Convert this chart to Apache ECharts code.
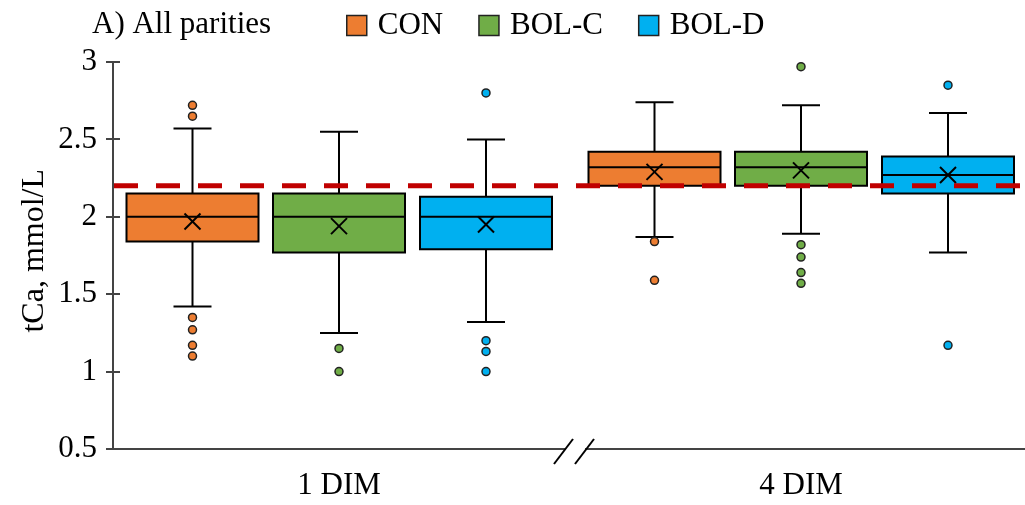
<!DOCTYPE html>
<html>
<head>
<meta charset="utf-8">
<script src="https://cdn.jsdelivr.net/npm/echarts@6/dist/echarts.min.js"></script>
<style>
  html, body { margin: 0; padding: 0; background: #fff; }
  #chart { width: 1025px; height: 505px; }
</style>
</head>
<body>
<div id="chart"></div>
<script>
// ---- data ----
const CATEGORIES = ['1 DIM', '4 DIM'];
const TREATMENTS = ['CON', 'BOL-C', 'BOL-D'];
const COLORS = ['#ED7D31', '#70AD47', '#00B0F0'];

// one row per DIM: [lower whisker, Q1, median, Q3, upper whisker, mean]
const CON_BOX  = [[1.42, 1.84, 2.00, 2.15, 2.57, 1.97], [1.87, 2.20, 2.32, 2.42, 2.74, 2.29]];
const BOLC_BOX = [[1.25, 1.77, 2.00, 2.15, 2.55, 1.94], [1.89, 2.20, 2.32, 2.42, 2.72, 2.30]];
const BOLD_BOX = [[1.32, 1.79, 2.00, 2.13, 2.50, 1.95], [1.77, 2.15, 2.27, 2.39, 2.67, 2.27]];

// outliers, one list per DIM
const CON_OUTLIERS  = [[2.72, 2.65, 1.35, 1.27, 1.17, 1.10], [1.84, 1.59]];
const BOLC_OUTLIERS = [[1.15, 1.00], [2.97, 1.82, 1.74, 1.64, 1.57]];
const BOLD_OUTLIERS = [[2.80, 1.20, 1.13, 1.00], [2.85, 1.17]];

const REFERENCE_LEVEL = 2.2;
const Y_TICKS = [0.5, 1, 1.5, 2, 2.5, 3];

// ---- style ----
const FONT = "'Liberation Serif', 'Times New Roman', serif";
const FONT_SIZE = 31;
const AXIS_COLOR = '#444';
const BOX_WIDTH = 132;
const CAP_WIDTH = 38;
const MEAN_SIZE = 16;
const TICK_HALF = 7;
const SLOT_OFFSETS = [-146.5, 0, 147];   // horizontal offset of each treatment inside a DIM group
const GRID_A = { left: 113, top: 62, width: 452, height: 387 };
const GRID_B = { left: 577, top: 62, width: 448, height: 387 };

const BOXES = [CON_BOX, BOLC_BOX, BOLD_BOX];
const OUTLIERS = [CON_OUTLIERS, BOLC_OUTLIERS, BOLD_OUTLIERS];

function boxRenderer(offset) {
  return function (params, api) {
    const cat = api.value(0);
    const py = (i) => api.coord([cat, api.value(i)])[1];
    const cx = api.coord([cat, api.value(3)])[0] + offset;
    const yMin = py(1), yQ1 = py(2), yMed = py(3), yQ3 = py(4), yMax = py(5), yMean = py(6);
    const half = BOX_WIDTH / 2, cap = CAP_WIDTH / 2, m = MEAN_SIZE / 2;
    const stroke = { stroke: '#000', lineWidth: 2 };
    return {
      type: 'group',
      children: [
        { type: 'line', shape: { x1: cx, y1: yMax, x2: cx, y2: yQ3 }, style: stroke },
        { type: 'line', shape: { x1: cx, y1: yQ1, x2: cx, y2: yMin }, style: stroke },
        { type: 'line', shape: { x1: cx - cap, y1: yMax, x2: cx + cap, y2: yMax }, style: stroke },
        { type: 'line', shape: { x1: cx - cap, y1: yMin, x2: cx + cap, y2: yMin }, style: stroke },
        { type: 'rect', shape: { x: cx - half, y: yQ3, width: BOX_WIDTH, height: yQ1 - yQ3 },
          style: { fill: api.visual('color'), stroke: '#000', lineWidth: 2 } },
        { type: 'line', shape: { x1: cx - half, y1: yMed, x2: cx + half, y2: yMed }, style: stroke },
        { type: 'line', shape: { x1: cx - m, y1: yMean - m, x2: cx + m, y2: yMean + m }, style: stroke },
        { type: 'line', shape: { x1: cx - m, y1: yMean + m, x2: cx + m, y2: yMean - m }, style: stroke }
      ]
    };
  };
}

const series = [];
CATEGORIES.forEach(function (cat, g) {
  TREATMENTS.forEach(function (name, t) {
    series.push({
      type: 'custom',
      name: name,
      xAxisIndex: g,
      yAxisIndex: g,
      itemStyle: { color: COLORS[t] },
      encode: { x: 0, y: [1, 2, 3, 4, 5, 6] },
      renderItem: boxRenderer(SLOT_OFFSETS[t]),
      data: [[0].concat(BOXES[t][g])],
      z: 2
    });
    series.push({
      type: 'scatter',
      name: name,
      xAxisIndex: g,
      yAxisIndex: g,
      symbol: 'circle',
      symbolSize: 8,
      symbolOffset: [SLOT_OFFSETS[t], 0],
      itemStyle: { color: COLORS[t], borderColor: '#222', borderWidth: 1.5, opacity: 1 },
      data: OUTLIERS[t][g].map(function (v) { return [0, v]; }),
      z: 3
    });
  });
});

const yMin = Y_TICKS[0], yMax = Y_TICKS[Y_TICKS.length - 1], yStep = Y_TICKS[1] - Y_TICKS[0];

function xAxisFor(g) {
  return {
    type: 'category',
    gridIndex: g,
    data: [CATEGORIES[g]],
    axisLine: { lineStyle: { color: AXIS_COLOR, width: 2 } },
    axisTick: { show: false },
    splitLine: { show: false },
    axisLabel: { color: '#000', fontFamily: FONT, fontSize: FONT_SIZE, lineHeight: 30, margin: 22 }
  };
}

const chart = echarts.init(document.getElementById('chart'), null, { renderer: 'canvas' });

chart.setOption({
  animation: false,
  backgroundColor: '#fff',
  title: {
    text: 'A) All parities',
    left: 92, top: 10, padding: 0,
    textStyle: { color: '#000', fontFamily: FONT, fontSize: FONT_SIZE, lineHeight: 30, fontWeight: 'normal' }
  },
  legend: {
    data: TREATMENTS.map(function (n, i) {
      return { name: n, icon: 'rect', itemStyle: { color: COLORS[i], borderColor: '#222', borderWidth: 1.5 } };
    }),
    left: 346, top: 10, padding: 0,
    itemWidth: 20, itemHeight: 20, itemGap: 35,
    textStyle: { color: '#000', fontFamily: FONT, fontSize: FONT_SIZE, lineHeight: 30, padding: [0, 0, 0, 6] },
    selectedMode: false
  },
  grid: [GRID_A, GRID_B],
  xAxis: [xAxisFor(0), xAxisFor(1)],
  yAxis: [
    {
      type: 'value', gridIndex: 0, position: 'left', min: yMin, max: yMax, interval: yStep,
      axisLine: { show: true, lineStyle: { color: AXIS_COLOR, width: 2 } },
      axisTick: { show: false },
      splitLine: { show: false },
      axisLabel: { color: '#000', fontFamily: FONT, fontSize: FONT_SIZE, margin: 16 }
    },
    {
      type: 'value', gridIndex: 1, min: yMin, max: yMax, interval: yStep, show: false,
      splitLine: { show: false }
    }
  ],
  graphic: [
    {
      type: 'text', id: 'ytitle', left: 19, top: 169, rotation: Math.PI / 2,
      style: { text: 'tCa, mmol/L', font: "32px 'Liberation Serif', 'Times New Roman', serif", fill: '#000' }
    },
    // gap in the category axis between the two DIM groups
    { type: 'rect', id: 'gap', shape: { x: 566, y: 446, width: 19, height: 7 }, style: { fill: '#fff' }, z: 50 },
    { type: 'line', id: 'brk1', shape: { x1: 554, y1: 464, x2: 573, y2: 439 }, style: { stroke: '#000', lineWidth: 2 }, z: 51 },
    { type: 'line', id: 'brk2', shape: { x1: 575, y1: 464, x2: 594, y2: 439 }, style: { stroke: '#000', lineWidth: 2 }, z: 51 }
  ],
  series: series
});

// crossing y ticks placed through the y scale, and the reference level across both DIM groups
const axisX = GRID_A.left;
const extra = [];
Y_TICKS.forEach(function (v, i) {
  const y = Math.round(chart.convertToPixel({ yAxisIndex: 0 }, v));
  extra.push({
    type: 'rect', id: 'tick' + i, z: 40,
    shape: { x: axisX - TICK_HALF, y: y - 1, width: TICK_HALF * 2, height: 2 },
    style: { fill: AXIS_COLOR }
  });
});
const refY = chart.convertToPixel({ yAxisIndex: 0 }, REFERENCE_LEVEL);
extra.push({
  type: 'line', id: 'ref', z: 60,
  shape: { x1: axisX + 1, y1: refY, x2: 1025, y2: refY },
  style: { stroke: '#C00000', lineWidth: 5, lineDash: [24, 18] }
});
chart.setOption({ graphic: extra });
</script>
</body>
</html>
